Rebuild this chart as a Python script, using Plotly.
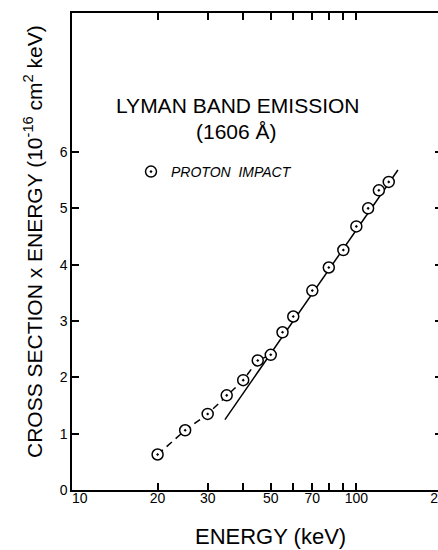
import plotly.graph_objects as go

# ---- data ----
energy_kev = [20, 25, 30, 35, 40, 45, 50, 55, 60, 70, 80, 90, 100, 110, 120, 130]
cross_x_energy = [0.63, 1.06, 1.35, 1.68, 1.95, 2.30, 2.40, 2.80, 3.08,
                  3.54, 3.95, 4.26, 4.68, 5.00, 5.32, 5.47]
dashed_n = 7                      # dashed curve joins the first points
fit_energy = [34.5, 140]           # straight (solid) line, log-x
fit_value = [1.25, 5.68]

x_tickvals = [20, 30, 50, 70, 100, 200]
x_ticktext = ["20", "30", "50", "70", "100", "200"]
x_minor_tickvals = [40, 60, 80, 90]
x_min_label = "10"
y_tickvals = [0, 1, 2, 3, 4, 5, 6]
y_max = 8.468

FONT = "Liberation Sans, Arial, sans-serif"

fig = go.Figure()

fig.add_trace(go.Scatter(
    x=energy_kev[:dashed_n], y=cross_x_energy[:dashed_n], mode="lines",
    line=dict(color="black", width=1.5, dash="7px,5px"),
    showlegend=False, hoverinfo="skip"))

fig.add_trace(go.Scatter(
    x=fit_energy, y=fit_value, mode="lines",
    line=dict(color="black", width=1.5),
    showlegend=False, hoverinfo="skip"))

fig.add_trace(go.Scatter(
    x=energy_kev, y=cross_x_energy, mode="markers",
    name="PROTON\u00a0\u00a0IMPACT",
    marker=dict(symbol="circle-dot", size=11, color="white",
                line=dict(color="black", width=1.5)),
    showlegend=True))

# page margin removed by post_script; the figure is wider than the window
# so that the right axis (at 200 keV) lies just past the visible edge
W, H = 446, 550
L, R, T, B = 72, 4, 13, 60
pw, ph = W - L - R, H - T - B

def px_to_paper_x(px):          # px: window pixel
    return (px - L) / pw

def px_to_paper_y(py):
    return (H - B - py) / ph

axis_common = dict(
    showgrid=False, zeroline=False, showline=True, linecolor="black",
    linewidth=1.5, ticks="inside", ticklen=7, tickwidth=1.5,
    tickcolor="black", mirror="ticks", automargin=False,
    tickfont=dict(family=FONT, size=14, color="black"))

fig.update_xaxes(type="log", range=[1, 2.3012], tickvals=x_tickvals,
                 ticktext=x_ticktext, ticklabelstandoff=-6,
                 ticklabeloverflow="allow",
                 minor=dict(tickvals=x_minor_tickvals, ticks="inside",
                            ticklen=7, tickwidth=1.5, tickcolor="black",
                            showgrid=False),
                 **axis_common)
fig.update_yaxes(range=[0, y_max], tickvals=y_tickvals, **axis_common)

ann = []
ann.append(dict(text=x_min_label, xref="paper", yref="paper",
                x=px_to_paper_x(80), y=px_to_paper_y(498),
                xanchor="center", yanchor="middle", showarrow=False,
                font=dict(family=FONT, size=14, color="black")))
ann.append(dict(text="LYMAN BAND EMISSION", xref="paper", yref="paper",
                x=px_to_paper_x(238), y=px_to_paper_y(105),
                xanchor="center", yanchor="middle", showarrow=False,
                font=dict(family=FONT, size=21, color="black")))
ann.append(dict(text="(1606 Å)", xref="paper", yref="paper",
                x=px_to_paper_x(236), y=px_to_paper_y(131),
                xanchor="center", yanchor="middle", showarrow=False,
                font=dict(family=FONT, size=21, color="black")))
ann.append(dict(text="ENERGY (keV)", xref="paper", yref="paper",
                x=px_to_paper_x(270), y=px_to_paper_y(536),
                xanchor="center", yanchor="middle", showarrow=False,
                font=dict(family=FONT, size=22, color="black")))
ann.append(dict(text="CROSS SECTION x ENERGY (10<sup>-16</sup> cm<sup>2</sup> keV)",
                xref="paper", yref="paper", textangle=-90,
                x=px_to_paper_x(33), y=px_to_paper_y(242),
                xanchor="center", yanchor="middle", showarrow=False,
                font=dict(family=FONT, size=21, color="black")))

fig.update_layout(
    width=W, height=H,
    margin=dict(l=L, r=R, t=T, b=B, autoexpand=False),
    plot_bgcolor="white", paper_bgcolor="white",
    annotations=ann,
    legend=dict(x=px_to_paper_x(131), y=px_to_paper_y(172),
                xanchor="left", yanchor="middle", bgcolor="rgba(0,0,0,0)",
                font=dict(family=FONT, size=14, color="black", style="italic")),
)

post = ("document.documentElement.style.overflow='hidden';"
        "document.body.style.margin='0';"
        "document.body.style.overflow='hidden';")
fig.write_html("out.html", post_script=post,
               config={"displayModeBar": False})
